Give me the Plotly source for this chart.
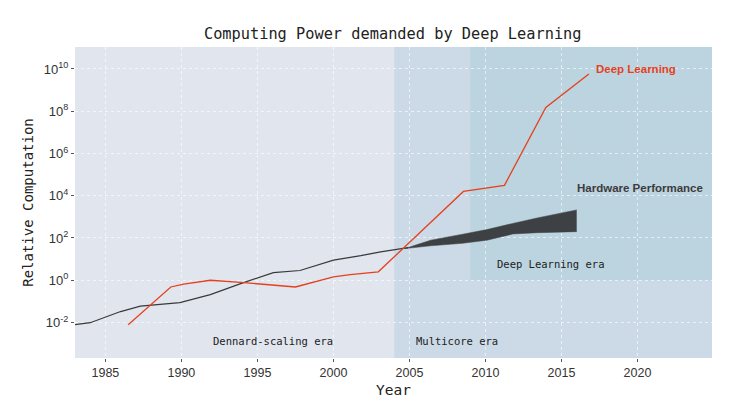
import plotly.graph_objects as go

# Hardware performance line (year, relative computation)
hw_years = [1983.0, 1984.0, 1986.0, 1987.3, 1989.9, 1991.9, 1993.9, 1996.05, 1997.8, 2000.0, 2001.8, 2003.1, 2004.9]
hw_values = [0.0079, 0.0098, 0.033, 0.060, 0.087, 0.21, 0.69, 2.3, 2.9, 8.9, 14.5, 22, 35]

# Hardware performance band (multicore era)
band_years = [2004.7, 2006.4, 2008.5, 2010.1, 2011.8, 2013.4, 2016.0]
band_upper = [31.6, 79, 151, 251, 490, 891, 2138]
band_lower = [31.6, 42.7, 56, 79, 155, 178, 200]

# Deep learning demand
dl_years = [1986.5, 1989.3, 1990.15, 1991.9, 1993.9, 1995.2, 1997.5, 2000.0, 2001.1, 2002.95, 2008.55, 2011.25, 2013.97, 2016.8]
dl_values = [0.0079, 0.48, 0.65, 1.0, 0.79, 0.65, 0.48, 1.45, 1.86, 2.5, 1.6e4, 3.1e4, 1.5e8, 5.8e9]

x_ticks = [1985, 1990, 1995, 2000, 2005, 2010, 2015, 2020]
y_ticks = [1e-2, 1e0, 1e2, 1e4, 1e6, 1e8, 1e10]
y_tick_labels = ["10<sup>-2</sup>", "10<sup>0</sup>", "10<sup>2</sup>", "10<sup>4</sup>",
                 "10<sup>6</sup>", "10<sup>8</sup>", "10<sup>10</sup>"]

multicore_start = 2004
dl_era_start = 2009
x_range = [1983.0, 2024.9]
y_range_log = [-3.68, 11.04]

RED = "#e5411d"
DARK = "#3e4143"
MONO = "DejaVu Sans Mono"
SANS = "Liberation Sans, Arial"
GRID = "rgba(255,255,255,0.6)"

fig = go.Figure()

fig.add_trace(go.Scatter(x=band_years, y=band_lower, mode="lines",
                         line=dict(color=DARK, width=0.5), hoverinfo="skip", showlegend=False))
fig.add_trace(go.Scatter(x=band_years, y=band_upper, mode="lines", fill="tonexty",
                         fillcolor=DARK, line=dict(color=DARK, width=0.5), showlegend=False))
fig.add_trace(go.Scatter(x=hw_years, y=hw_values, mode="lines",
                         line=dict(color="#3a3a3a", width=1.2), showlegend=False))
fig.add_trace(go.Scatter(x=dl_years, y=dl_values, mode="lines",
                         line=dict(color=RED, width=1.3), showlegend=False))

shapes = [
    dict(type="rect", xref="x", yref="paper", x0=multicore_start, x1=x_range[1], y0=0, y1=1,
         fillcolor="#cbdae6", line=dict(width=0), layer="below"),
    dict(type="rect", xref="x", yref="paper", x0=dl_era_start, x1=x_range[1],
         y0=(0 - y_range_log[0]) / (y_range_log[1] - y_range_log[0]), y1=1,
         fillcolor="#bcd3e0", line=dict(width=0), layer="below"),
]

annotations = [
    dict(x=1996.05, y=-2.88, xref="x", yref="y", text="Dennard-scaling era", showarrow=False,
         font=dict(family=MONO, size=10.5, color="#222")),
    dict(x=2008.15, y=-2.88, xref="x", yref="y", text="Multicore era", showarrow=False,
         font=dict(family=MONO, size=10.5, color="#222")),
    dict(x=2014.25, y=0.79, xref="x", yref="y", text="Deep Learning era", showarrow=False,
         font=dict(family=MONO, size=10.5, color="#222")),
    dict(x=2019.88, y=10.0, xref="x", yref="y", text="<b>Deep Learning</b>", showarrow=False,
         font=dict(family=SANS, size=11.5, color=RED)),
    dict(x=2020.15, y=4.35, xref="x", yref="y", text="<b>Hardware Performance</b>", showarrow=False,
         font=dict(family=SANS, size=11.5, color="#3c3c3c")),
]

fig.update_layout(
    width=730, height=414,
    margin=dict(l=75, r=18, t=47, b=56, autoexpand=False),
    paper_bgcolor="white",
    plot_bgcolor="#e1e5ee",
    shapes=shapes,
    annotations=annotations,
    title=dict(text="Computing Power demanded by Deep Learning", x=0.538, xanchor="center",
               y=1 - 34 / 414, yanchor="middle", font=dict(family=MONO, size=15.3, color="#222")),
    xaxis=dict(range=x_range, tickvals=x_ticks, ticks="outside", ticklen=3, tickcolor="#555",
               showgrid=True, gridcolor=GRID, griddash="dot", gridwidth=0.7,
               zeroline=False, showline=False, automargin=False,
               tickfont=dict(family=SANS, size=12.5, color="#333"),
               title=dict(text="Year", font=dict(family=MONO, size=14.5, color="#222"), standoff=5)),
    yaxis=dict(type="log", range=y_range_log, tickvals=y_ticks, ticktext=y_tick_labels,
               ticks="outside", ticklen=3, tickcolor="#555",
               showgrid=True, gridcolor=GRID, griddash="dot", gridwidth=0.7,
               zeroline=False, showline=False, automargin=False,
               tickfont=dict(family=SANS, size=13, color="#333"),
               title=dict(text="Relative Computation", font=dict(family=MONO, size=14, color="#222"), standoff=6)),
)

fig.write_html("out.html", config={"displayModeBar": False},
               post_script="document.body.style.margin='0px';document.body.style.overflow='hidden';")
